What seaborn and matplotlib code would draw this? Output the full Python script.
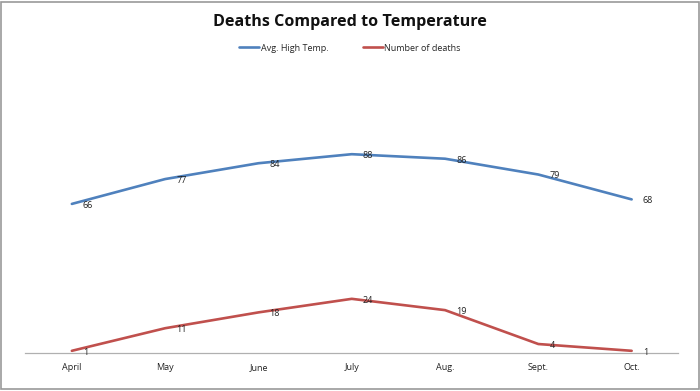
import pandas as pd
import numpy as np
import seaborn as sns
import matplotlib.pyplot as plt

months = ["April", "May", "June", "July", "Aug.", "Sept.", "Oct."]
temp = [66, 77, 84, 88, 86, 79, 68]
deaths = [1, 11, 18, 24, 19, 4, 1]

df = pd.DataFrame({
    "month": months * 2,
    "value": temp + deaths,
    "series": ["Avg. High Temp."] * len(months) + ["Number of deaths"] * len(months),
})

sns.set_theme(style="white")
plt.rcParams["font.family"] = ["Open Sans", "DejaVu Sans"]

fig = plt.figure(figsize=(7, 3.91), dpi=100)
ax = fig.add_axes([0.036, 0.097, 0.933, 0.578])

colors = {"Avg. High Temp.": "#4F81BD", "Number of deaths": "#C0504D"}
sns.lineplot(data=df, x="month", y="value", hue="series", palette=colors,
             linewidth=1.9, ax=ax, sort=False)

# data labels
for s, vals in [("Avg. High Temp.", temp), ("Number of deaths", deaths)]:
    for i, v in enumerate(vals):
        ax.annotate(str(v), (i, v), xytext=(8, -1), textcoords="offset points",
                    ha="left", va="center", fontsize=6.5, color="#222222")

ax.set_xlim(-0.5, 6.5)
ax.set_ylim(0, 100)
ax.set_yticks([])
ax.set_xlabel("")
ax.set_ylabel("")
for sp in ["top", "left", "right"]:
    ax.spines[sp].set_visible(False)
ax.spines["bottom"].set_color("#b0b0b0")
ax.spines["bottom"].set_linewidth(0.9)
ax.tick_params(axis="x", length=0, labelsize=6.5, pad=7, colors="#222222")

ax.legend(loc="center", bbox_to_anchor=(0.5, 0.877), bbox_transform=fig.transFigure,
          ncol=2, frameon=False, fontsize=6.5, handlelength=2.2, handletextpad=0.2,
          columnspacing=3.8)

fig.suptitle("Deaths Compared to Temperature", y=0.965, fontsize=11.6,
             fontweight="bold", color="#111111")

# outer border of chart area
fig.patches.append(plt.Rectangle((0.002, 0.004), 0.996, 0.992, transform=fig.transFigure,
                                 fill=False, edgecolor="#999999", linewidth=1.2))

plt.savefig("out.png", dpi=100)
